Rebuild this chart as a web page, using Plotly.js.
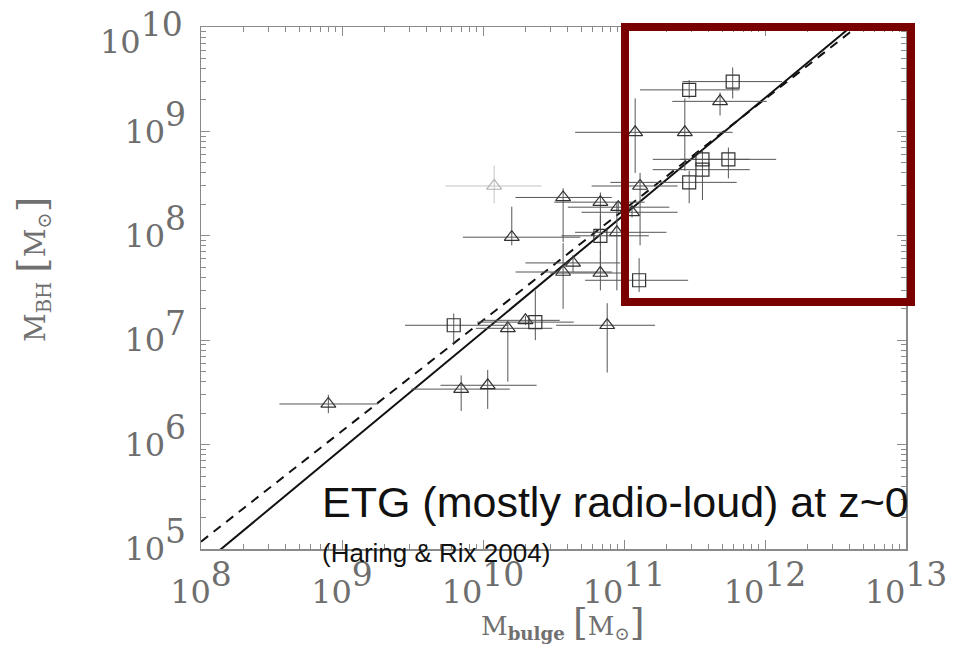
<!DOCTYPE html>
<html><head><meta charset="utf-8">
<script src="https://cdn.plot.ly/plotly-3.0.1.min.js"></script>
<style>html,body{margin:0;padding:0;background:#fff}</style>
</head><body><div id="chart" style="width:957px;height:649px"></div>
<script>
// ---- tick exponents ----
const xTickExp = [8, 9, 10, 11, 12, 13];
const yTickExp = [5, 6, 7, 8, 9, 10];

// ---- triangles (black) : value, lower, upper ----
const triX   = [8.0e8, 7.0e9, 1.08e10, 1.6e10, 1.5e10, 2.0e10, 3.7e10, 3.7e10, 4.35e10, 6.8e10, 6.8e10, 8.9e10, 9.1e10, 1.14e11, 1.3e11, 7.6e10, 1.2e11, 2.7e11, 4.8e11];
const triXlo = [3.6e8, 3.1e9, 5.0e9, 7.2e9, 8.9e9, 1.0e10, 1.7e10, 1.7e10, 2.0e10, 3.2e10, 3.0e10, 4.5e10, 4.0e10, 5.0e10, 5.9e10, 3.3e10, 4.5e10, 1.3e11, 2.2e11];
const triXhi = [1.8e9, 1.55e10, 2.4e10, 4.9e10, 3.1e10, 3.5e10, 8.2e10, 8.2e10, 9.4e10, 1.4e11, 1.0e11, 2.0e11, 2.1e11, 2.4e11, 2.4e11, 1.66e11, 2.9e11, 5.9e11, 1.03e12];
const triY   = [2.45e6, 3.4e6, 3.7e6, 9.7e7, 1.3e7, 1.55e7, 2.33e8, 4.5e7, 5.5e7, 2.1e8, 4.4e7, 1.08e8, 1.88e8, 1.68e8, 3.0e8, 1.39e7, 9.8e8, 9.8e8, 1.94e9];
const triYlo = [2.0e6, 2.1e6, 2.2e6, 8.1e7, 4.0e6, 1.4e7, 8.7e7, 2.0e7, 4.5e7, 8.1e7, 3.0e7, 3.0e7, 1.7e8, 1.5e8, 8.1e7, 4.9e6, 4.0e8, 4.2e8, 1.42e9];
const triYhi = [3.0e6, 4.6e6, 5.2e6, 1.9e8, 1.5e7, 1.7e7, 2.85e8, 8.5e7, 6.5e7, 2.6e8, 7.3e7, 2.05e8, 2.1e8, 1.9e8, 4.0e8, 2.26e7, 2.07e9, 2.07e9, 2.36e9];

// ---- faint triangle (grey) ----
const faintX = [1.2e10], faintXlo = [5.4e9], faintXhi = [2.6e10];
const faintY = [3.0e8], faintYlo = [2.05e8], faintYhi = [4.7e8];

// ---- squares ----
const sqX   = [6.2e9, 2.35e10, 6.8e10, 1.28e11, 2.9e11, 5.9e11, 3.6e11, 3.6e11, 5.5e11, 2.9e11];
const sqXlo = [2.8e9, 9.1e9, 3.6e10, 5.3e10, 1.3e11, 2.6e11, 1.6e11, 1.6e11, 2.5e11, 8.0e10];
const sqXhi = [1.5e10, 4.4e10, 1.5e11, 2.85e11, 6.6e11, 1.32e12, 7.8e11, 7.8e11, 1.2e12, 6.3e11];
const sqY   = [1.39e7, 1.49e7, 1.0e8, 3.75e7, 2.5e9, 3.0e9, 5.4e8, 4.3e8, 5.4e8, 3.25e8];
const sqYlo = [9.3e6, 1.0e7, 5.2e7, 2.9e7, 2.07e9, 2.07e9, 4.5e8, 2.2e8, 3.55e8, 2.05e8];
const sqYhi = [1.8e7, 3.0e7, 1.57e8, 6.1e7, 3.1e9, 4.1e9, 6.6e8, 5.0e8, 7.0e8, 4.2e8];

// ---- relations: log MBH = a + b (log Mbulge - 11) ----
const fitSolid  = {a: 8.20, b: 1.12};
const fitDashed = {a: 8.25, b: 1.06};

const up = (v, hi) => v.map((x, i) => hi[i] - x);
const dn = (v, lo) => v.map((x, i) => x - lo[i]);

function errTrace(x, xlo, xhi, y, ylo, yhi, symbol, color, ecolor) {
  return {
    type: 'scatter', mode: 'markers', x: x, y: y, showlegend: false, hoverinfo: 'x+y',
    marker: {symbol: symbol, size: 13, color: color, line: {width: 1.2, color: color}},
    error_x: {type: 'data', symmetric: false, array: up(x, xhi), arrayminus: dn(x, xlo), thickness: 1, width: 0, color: ecolor},
    error_y: {type: 'data', symmetric: false, array: up(y, yhi), arrayminus: dn(y, ylo), thickness: 1, width: 0, color: ecolor}
  };
}
function fitLine(f, dash) {
  const lx = [1e8, 1e13];
  return {type: 'scatter', mode: 'lines', x: lx,
    y: lx.map(v => Math.pow(10, f.a + f.b * (Math.log10(v) - 11))),
    line: {color: '#111', width: 2, dash: dash}, showlegend: false, hoverinfo: 'skip'};
}

const tickLabel = e => '10<span style="font-size:40px"><sup><span style="font-size:33px">' + e + '</span></sup></span>';
function minorVals(exps) {
  const out = [];
  for (let k = 0; k < exps.length - 1; k++) for (let d = 2; d <= 9; d++) out.push(d * Math.pow(10, exps[k]));
  return out;
}
const tickFont = {family: 'DejaVu Serif', size: 32, color: '#6e6e6e'};
// top y label is drawn lower (kept inside the picture), as in the original
const yTopExp = yTickExp[yTickExp.length - 1];

const axisCommon = {
  type: 'log', showgrid: false, zeroline: false, showline: true, linecolor: '#8a8a8a', linewidth: 1.5,
  mirror: 'ticks', ticks: 'inside', ticklen: 9, tickwidth: 1, tickcolor: '#8a8a8a',
  ticklabeloverflow: 'allow', tickfont: tickFont
};

const data = [
  fitLine(fitDashed, '9px,7px'),
  fitLine(fitSolid, 'solid'),
  errTrace(faintX, faintXlo, faintXhi, faintY, faintYlo, faintYhi, 'triangle-up-open', '#b0b0b0', '#c4c4c4'),
  errTrace(triX, triXlo, triXhi, triY, triYlo, triYhi, 'triangle-up-open', '#333', '#555'),
  errTrace(sqX, sqXlo, sqXhi, sqY, sqYlo, sqYhi, 'square-open', '#333', '#555')
];

const layout = {
  width: 957, height: 649,
  margin: {l: 201, r: 51, t: 27, b: 100},
  paper_bgcolor: '#fff', plot_bgcolor: '#fff',
  xaxis: Object.assign({}, axisCommon, {
    range: [7.99999, 13.00001], tickmode: 'array',
    tickvals: xTickExp.map(e => Math.pow(10, e)), ticktext: xTickExp.map(tickLabel),
    ticklabelstandoff: 14,
    minor: {tickmode: 'array', tickvals: minorVals(xTickExp), ticks: 'inside', ticklen: 5, tickcolor: '#8a8a8a'}
  }),
  yaxis: Object.assign({}, axisCommon, {
    range: [4.99999, 10.00001], tickmode: 'array',
    tickvals: yTickExp.map(e => Math.pow(10, e)),
    ticktext: yTickExp.map(e => e === yTopExp ? '' : tickLabel(e)),
    ticklabelstandoff: 7,
    minor: {tickmode: 'array', tickvals: minorVals(yTickExp), ticks: 'inside', ticklen: 5, tickcolor: '#8a8a8a'}
  }),
  shapes: [{type: 'rect', xref: 'paper', yref: 'paper', x0: 0.6014, x1: 1.0071, y0: 0.4732, y1: 1.0,
    line: {color: '#7a0000', width: 8}, fillcolor: 'rgba(0,0,0,0)', layer: 'above'}],
  annotations: [
    {xref: 'paper', yref: 'paper', x: -0.0227, y: 0.988, xanchor: 'right', yanchor: 'middle', showarrow: false,
      text: tickLabel(yTopExp), font: tickFont},
    {xref: 'paper', yref: 'paper', x: 0.1688, y: 0.090, xanchor: 'left', yanchor: 'middle', showarrow: false,
      text: 'ETG (mostly radio-loud) at z~0', font: {family: 'Liberation Sans', size: 43, color: '#111'}},
    {xref: 'paper', yref: 'paper', x: 0.1688, y: -0.008, xanchor: 'left', yanchor: 'middle', showarrow: false,
      text: '(Haring &amp; Rix 2004)', font: {family: 'Liberation Sans', size: 26, color: '#111'}},
    {xref: 'paper', yref: 'paper', x: 0.5135, y: -0.14, xanchor: 'center', yanchor: 'middle', showarrow: false,
      text: 'M<sub><b>bulge</b></sub> <span style="font-size:38px">[</span>M<sub>⊙</sub><span style="font-size:38px">]</span>',
      font: {family: 'DejaVu Serif', size: 26, color: '#707070'}},
    {xref: 'paper', yref: 'paper', x: -0.2397, y: 0.5345, xanchor: 'center', yanchor: 'middle', showarrow: false, textangle: -90,
      text: 'M<sub>BH</sub> <span style="font-size:40px">[</span>M<sub>⊙</sub><span style="font-size:40px">]</span>',
      font: {family: 'DejaVu Serif', size: 28, color: '#707070'}}
  ]
};

Plotly.newPlot('chart', data, layout, {displayModeBar: false, staticPlot: true});
</script></body></html>
